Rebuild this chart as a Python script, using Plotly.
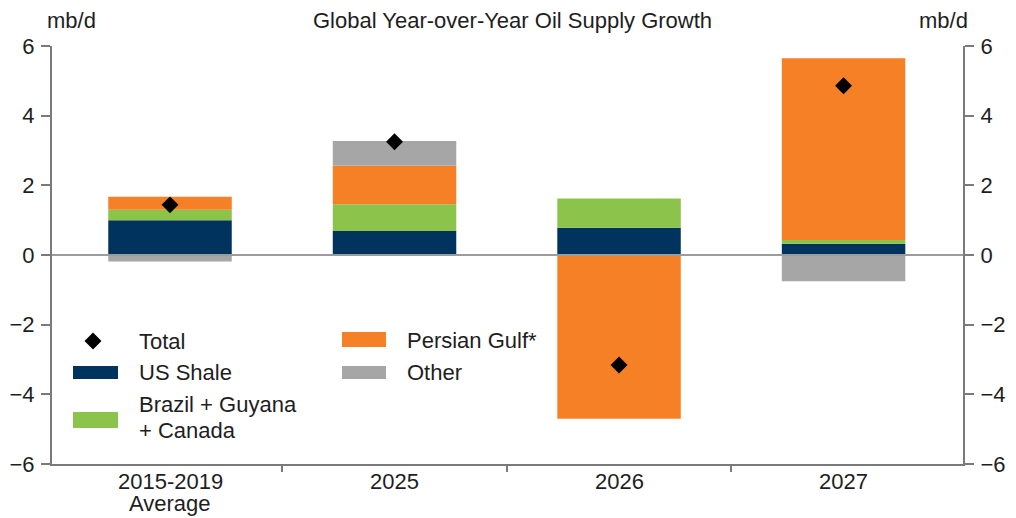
import plotly.graph_objects as go

categories = ["2015-2019<br>Average", "2025", "2026", "2027"]
us_shale = [1.00, 0.69, 0.78, 0.32]
brazil_guyana_canada = [0.30, 0.77, 0.84, 0.11]
persian_gulf = [0.37, 1.10, -4.70, 5.22]
other = [-0.19, 0.71, 0.00, -0.75]
total = [1.44, 3.25, -3.16, 4.86]
y_ticks = [-6, -4, -2, 0, 2, 4, 6]

C_US = "#00345E"
C_BR = "#8CC34A"
C_PG = "#F58025"
C_OT = "#A6A6A6"
AX = "#7a7a7a"
TXT = "#1e1e1e"
FONT = "Liberation Sans, Arial, sans-serif"
FS = 22

W, H = 1016, 518
L, R, T, B = 52, 53, 46, 54
pw, ph = W - L - R, H - T - B

def px(x):
    return (x - L) / pw

def py(y):
    return (H - B - y) / ph

xi = list(range(len(categories)))

fig = go.Figure()
for name, vals, col in [("US Shale", us_shale, C_US),
                        ("Brazil + Guyana + Canada", brazil_guyana_canada, C_BR),
                        ("Persian Gulf*", persian_gulf, C_PG),
                        ("Other", other, C_OT)]:
    fig.add_trace(go.Bar(x=xi, y=vals, name=name, marker=dict(color=col, line=dict(width=0)),
                         width=0.55, showlegend=False))

fig.add_trace(go.Scatter(x=xi, y=total, mode="markers", name="Total",
                         marker=dict(symbol="diamond", size=13, color="black"),
                         showlegend=False))

fig.update_layout(
    width=W, height=H,
    margin=dict(l=L, r=R, t=T, b=B, autoexpand=False),
    barmode="relative",
    bargap=0.45,
    plot_bgcolor="white", paper_bgcolor="white",
    font=dict(family=FONT, size=FS, color=TXT),
    xaxis=dict(range=[-0.5256, 3.532], tickvals=xi, showticklabels=False,
               ticks="", showline=True, linecolor=AX, linewidth=2, automargin=False,
               showgrid=False, zeroline=False, fixedrange=True,
               minor=dict(tickvals=[0.5, 1.5, 2.5], ticks="outside", ticklen=6,
                          tickcolor=AX, tickwidth=2, showgrid=False)),
    yaxis=dict(range=[-6, 6], tickvals=y_ticks, ticks="outside", ticklen=9, automargin=False,
               tickcolor=AX, tickwidth=2, showline=True, linecolor=AX, linewidth=2,
               ticklabelstandoff=2,
               showgrid=False, zeroline=False, tickfont=dict(size=FS, color=TXT)),
    yaxis2=dict(range=[-6, 6], tickvals=y_ticks, ticks="outside", ticklen=9, automargin=False,
                tickcolor=AX, tickwidth=2, showline=True, linecolor=AX, linewidth=2,
                ticklabelstandoff=2,
                showgrid=False, zeroline=False, overlaying="y", side="right",
                anchor="x", tickfont=dict(size=FS, color=TXT)),
)
# invisible trace so the right axis is drawn
fig.add_trace(go.Scatter(x=[xi[0]], y=[0], yaxis="y2", mode="markers",
                         marker=dict(opacity=0), showlegend=False, hoverinfo="skip"))

shapes = [dict(type="line", xref="paper", yref="y", x0=0, x1=1, y0=0, y1=0,
               line=dict(color="#9c9c9c", width=2), layer="above")]
annotations = [
    dict(text="Global Year-over-Year Oil Supply Growth", xref="paper", yref="paper",
         x=px(512), y=py(20), yanchor="middle", showarrow=False, font=dict(size=FS, color=TXT)),
    dict(text="mb/d", xref="paper", yref="paper", x=px(45), y=py(20), yanchor="middle",
         showarrow=False, font=dict(size=FS, color=TXT)),
    dict(text="mb/d", xref="paper", yref="paper", x=px(970), y=py(20), yanchor="middle",
         showarrow=False, font=dict(size=FS, color=TXT)),
]

# category labels (tight line spacing like the reference)
for xv, lab in zip(xi, categories):
    for k, line in enumerate(lab.split("<br>")):
        annotations.append(dict(text=line, xref="x", yref="paper", x=xv, y=py(481 + 22 * k),
                                yanchor="middle", showarrow=False,
                                font=dict(size=FS, color=TXT)))

# manual legend
shapes.append(dict(type="path", xref="paper", yref="paper", xsizemode="pixel", ysizemode="pixel",
                   xanchor=px(93), yanchor=py(341), path="M 0 8.5 L 8.5 0 L 0 -8.5 L -8.5 0 Z",
                   fillcolor="black", line=dict(width=0)))
for (x0, x1, y0, y1, col) in [(73, 118, 366, 379, C_US), (73, 118, 412, 428, C_BR),
                              (342, 386, 332, 347, C_PG), (342, 386, 366, 379, C_OT)]:
    shapes.append(dict(type="rect", xref="paper", yref="paper", x0=px(x0), x1=px(x1),
                       y0=py(y1), y1=py(y0), fillcolor=col, line=dict(width=0)))
for (x, y, t) in [(137, 341, "Total"), (137, 372, "US Shale"),
                  (137, 404, "Brazil + Guyana"), (137, 430, "+ Canada"),
                  (405, 340, "Persian Gulf*"), (405, 372, "Other")]:
    annotations.append(dict(text=t, xref="paper", yref="paper", x=px(x), y=py(y),
                            xanchor="left", yanchor="middle", align="left", showarrow=False,
                            font=dict(size=FS, color=TXT)))

fig.update_layout(shapes=shapes, annotations=annotations)
fig.write_html("out.html")
